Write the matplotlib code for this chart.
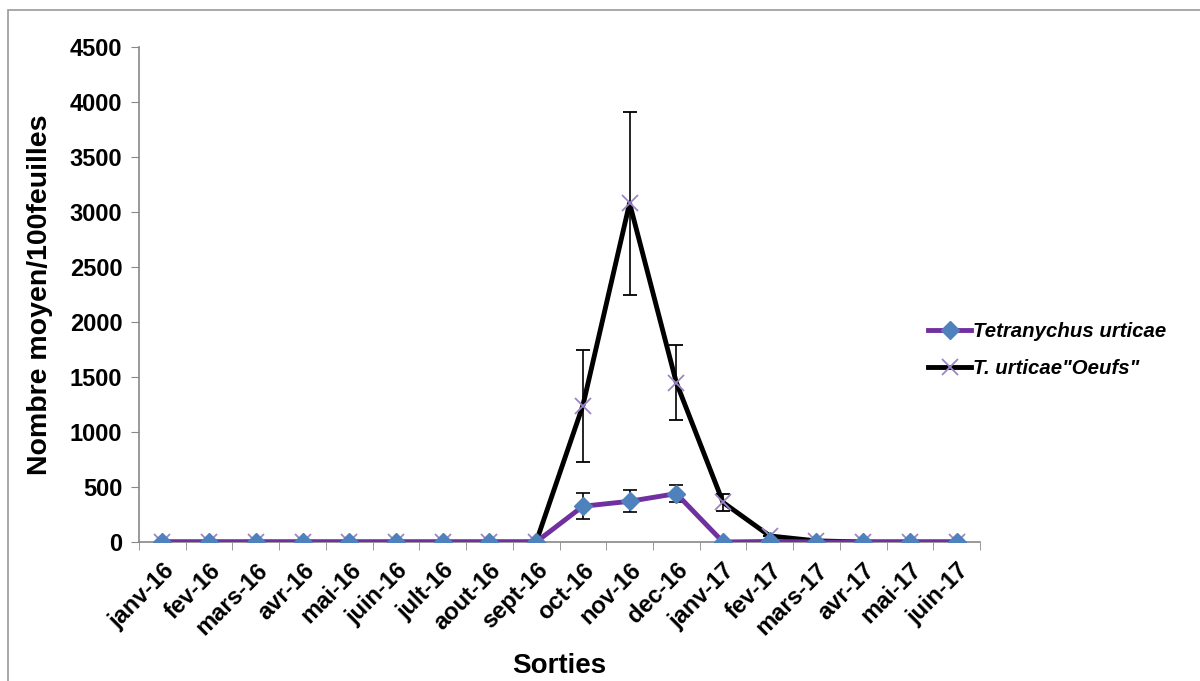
import matplotlib
matplotlib.use("Agg")
import matplotlib.pyplot as plt
from matplotlib.patches import Rectangle
from matplotlib.lines import Line2D

months = ["janv-16", "fev-16", "mars-16", "avr-16", "mai-16", "juin-16", "jult-16",
          "aout-16", "sept-16", "oct-16", "nov-16", "dec-16", "janv-17", "fev-17",
          "mars-17", "avr-17", "mai-17", "juin-17"]
adults = [0, 0, 0, 0, 0, 0, 0, 0, 0, 325, 370, 440, 0, 5, 0, 0, 0, 0]
adults_err = [0, 0, 0, 0, 0, 0, 0, 0, 0, 120, 100, 80, 0, 0, 0, 0, 0, 0]
eggs = [0, 0, 0, 0, 0, 0, 0, 0, 0, 1240, 3080, 1450, 360, 55, 10, 0, 0, 0]
eggs_err = [0, 0, 0, 0, 0, 0, 0, 0, 0, 510, 830, 340, 80, 0, 0, 0, 0, 0]

plt.rcParams['font.family'] = ['Liberation Sans', 'DejaVu Sans']
fig = plt.figure(figsize=(12, 6.81), dpi=100)
ax = fig.add_axes([139/1200, 1-542/681, (980-139)/1200, (542-47)/681])

x = list(range(len(months)))
adult_style = dict(color='#7030A0', lw=3.5, marker='D', markersize=9,
                   markerfacecolor='#4F81BD', markeredgecolor='#4F81BD')
egg_style = dict(color='black', lw=3.5, marker='x', markersize=12,
                 markeredgecolor='#9B86C2', markeredgewidth=1.3)
ax.errorbar(x, adults, yerr=adults_err, ecolor='black', elinewidth=1.2,
            capsize=5, capthick=1.2, zorder=3, **adult_style)
ax.errorbar(x, eggs, yerr=eggs_err, ecolor='black', elinewidth=1.2,
            capsize=5, capthick=1.2, zorder=2, **egg_style)

ax.set_xlim(-0.5, len(months) - 0.5)
ax.set_ylim(0, 4500)
ax.set_yticks(range(0, 4501, 500))
ax.set_xticks(x)
ax.set_xticklabels(months, rotation=45, ha='right', rotation_mode='anchor',
                   fontsize=17, fontweight='bold')
ax.set_xticks([i + 0.5 for i in range(-1, len(months))], minor=True)
ax.tick_params(axis='x', which='major', length=0, pad=12)
ax.tick_params(axis='x', which='minor', length=6, color='#888888', direction='out')
ax.tick_params(axis='y', length=6, color='#888888', labelsize=17, pad=6)
for lab in ax.get_yticklabels():
    lab.set_fontweight('bold')
for s in ['top', 'right']:
    ax.spines[s].set_visible(False)
for s in ['left', 'bottom']:
    ax.spines[s].set_color('#888888')
    ax.spines[s].set_linewidth(1.2)

ax.set_ylabel('Nombre moyen/100feuilles', fontsize=20.5, fontweight='bold', labelpad=12)
ax.set_xlabel('Sorties', fontsize=20, fontweight='bold', labelpad=10)

handles = [Line2D([], [], **adult_style), Line2D([], [], **egg_style)]
labels = ['Tetranychus urticae', 'T. urticae"Oeufs"']
ax.legend(handles, labels, loc='center left', bbox_to_anchor=(910/1200, 1-350/681),
          bbox_transform=fig.transFigure, frameon=False,
          prop={'size': 14.7, 'weight': 'bold', 'style': 'italic'},
          handlelength=2.1, handletextpad=0.1, labelspacing=0.9)

fig.patches.append(Rectangle((8/1200, -0.1), 1.2, 1 - 10/681 + 0.1,
                             transform=fig.transFigure, fill=False,
                             edgecolor='#999999', lw=1.2))
fig.savefig('out.png', dpi=100)
